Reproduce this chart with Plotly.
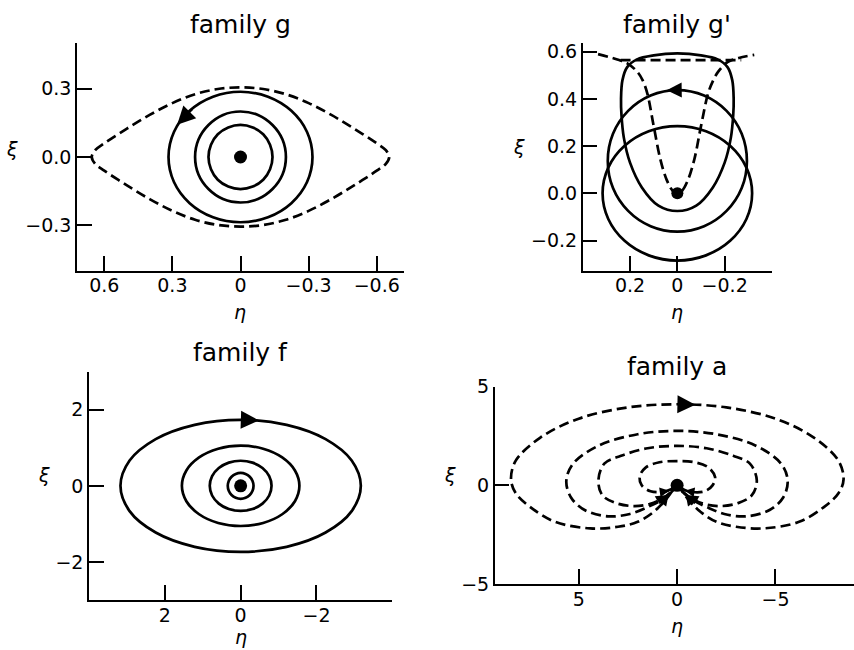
import plotly.graph_objects as go

W, H = 854, 650
FONT = "DejaVu Sans"

# ---------------- family g ----------------
g_sep_eta = [0.655, 0.64, 0.60, 0.50, 0.40, 0.30, 0.20, 0.10, 0.00, -0.10, -0.20, -0.30, -0.40, -0.50, -0.60, -0.64,
             -0.655, -0.64, -0.60, -0.50, -0.40, -0.30, -0.20, -0.10, 0.00, 0.10, 0.20, 0.30, 0.40, 0.50, 0.60, 0.64, 0.655]
g_sep_xi = [0.0, 0.03, 0.06, 0.125, 0.185, 0.237, 0.276, 0.299, 0.306, 0.299, 0.276, 0.237, 0.185, 0.125, 0.06, 0.03,
            0.0, -0.03, -0.06, -0.125, -0.185, -0.237, -0.276, -0.299, -0.306, -0.299, -0.276, -0.237, -0.185, -0.125, -0.06, -0.03, 0.0]
g_orb1_eta = [0.317, 0.293, 0.224, 0.121, 0.0, -0.121, -0.224, -0.293, -0.317, -0.293, -0.224, -0.121, 0.0, 0.121, 0.224, 0.293, 0.317]
g_orb1_xi = [0.0, 0.110, 0.203, 0.265, 0.287, 0.265, 0.203, 0.110, 0.0, -0.110, -0.203, -0.265, -0.287, -0.265, -0.203, -0.110, 0.0]
g_orb2_eta = [0.2, 0.185, 0.141, 0.077, 0.0, -0.077, -0.141, -0.185, -0.2, -0.185, -0.141, -0.077, 0.0, 0.077, 0.141, 0.185, 0.2]
g_orb2_xi = [0.0, 0.077, 0.141, 0.185, 0.2, 0.185, 0.141, 0.077, 0.0, -0.077, -0.141, -0.185, -0.2, -0.185, -0.141, -0.077, 0.0]
g_orb3_eta = [0.141, 0.130, 0.1, 0.054, 0.0, -0.054, -0.1, -0.130, -0.141, -0.130, -0.1, -0.054, 0.0, 0.054, 0.1, 0.130, 0.141]
g_orb3_xi = [0.0, 0.054, 0.1, 0.130, 0.141, 0.130, 0.1, 0.054, 0.0, -0.054, -0.1, -0.130, -0.141, -0.130, -0.1, -0.054, 0.0]
g_arrow = [0.206, 0.216, 0.279, 0.142]          # tail eta, tail xi, tip eta, tip xi
g_xticks = [0.6, 0.3, 0.0, -0.3, -0.6]
g_xtext = ["0.6", "0.3", "0", "\u22120.3", "\u22120.6"]
g_yticks = [0.3, 0.0, -0.3]
g_ytext = ["0.3", "0.0", "\u22120.3"]

# ---------------- family g' ----------------
gp_orb1_eta = [0.316, 0.292, 0.223, 0.121, 0.0, -0.121, -0.223, -0.292, -0.316, -0.292, -0.223, -0.121, 0.0, 0.121, 0.223, 0.292, 0.316]
gp_orb1_xi = [0.0, 0.109, 0.2015, 0.263, 0.285, 0.263, 0.2015, 0.109, 0.0, -0.109, -0.2015, -0.263, -0.285, -0.263, -0.2015, -0.109, 0.0]
gp_orb2_eta = [0.294, 0.272, 0.208, 0.113, 0.0, -0.113, -0.208, -0.272, -0.294, -0.272, -0.208, -0.113, 0.0, 0.113, 0.208, 0.272, 0.294]
gp_orb2_xi = [0.1375, 0.2525, 0.3495, 0.4145, 0.4375, 0.4145, 0.3495, 0.2525, 0.1375, 0.0225, -0.0745, -0.1395, -0.1625, -0.1395, -0.0745, 0.0225, 0.1375]
gp_orb3_eta = [0.0, 0.10, 0.17, 0.212, 0.232, 0.238, 0.236, 0.226, 0.20, 0.15, 0.08, 0.0,
               -0.08, -0.15, -0.20, -0.226, -0.236, -0.238, -0.232, -0.212, -0.17, -0.10, 0.0]
gp_orb3_xi = [0.593, 0.585, 0.568, 0.535, 0.48, 0.40, 0.33, 0.235, 0.13, 0.025, -0.052, -0.075,
              -0.052, 0.025, 0.13, 0.235, 0.33, 0.40, 0.48, 0.535, 0.568, 0.585, 0.593]
gp_sep_eta = [0.335, 0.29, 0.25, 0.21, 0.169, 0.147, 0.127, 0.10, 0.072, 0.045, 0.02, 0.0,
              -0.02, -0.045, -0.072, -0.10, -0.13, -0.152, -0.172, -0.212, -0.26, -0.325]
gp_sep_xi = [0.59, 0.578, 0.566, 0.55, 0.515, 0.48, 0.424, 0.285, 0.145, 0.057, 0.011, 0.0,
             0.011, 0.057, 0.145, 0.285, 0.424, 0.48, 0.515, 0.556, 0.574, 0.587]
gp_line_eta = [0.24, -0.27]
gp_line_xi = [0.565, 0.565]
gp_arrow = [-0.015, 0.438, 0.045, 0.437]
gp_xticks = [0.2, 0.0, -0.2]
gp_xtext = ["0.2", "0", "\u22120.2"]
gp_yticks = [0.6, 0.4, 0.2, 0.0, -0.2]
gp_ytext = ["0.6", "0.4", "0.2", "0.0", "\u22120.2"]

# ---------------- family f ----------------
f_orb1_eta = [3.17, 2.929, 2.241, 1.213, 0.0, -1.213, -2.241, -2.929, -3.17, -2.929, -2.241, -1.213, 0.0, 1.213, 2.241, 2.929, 3.17]
f_orb1_xi = [0.0, 0.664, 1.227, 1.603, 1.735, 1.603, 1.227, 0.664, 0.0, -0.664, -1.227, -1.603, -1.735, -1.603, -1.227, -0.664, 0.0]
f_orb2_eta = [1.55, 1.432, 1.096, 0.593, 0.0, -0.593, -1.096, -1.432, -1.55, -1.432, -1.096, -0.593, 0.0, 0.593, 1.096, 1.432, 1.55]
f_orb2_xi = [0.0, 0.404, 0.746, 0.975, 1.055, 0.975, 0.746, 0.404, 0.0, -0.404, -0.746, -0.975, -1.055, -0.975, -0.746, -0.404, 0.0]
f_orb3_eta = [0.815, 0.753, 0.576, 0.312, 0.0, -0.312, -0.576, -0.753, -0.815, -0.753, -0.576, -0.312, 0.0, 0.312, 0.576, 0.753, 0.815]
f_orb3_xi = [0.0, 0.253, 0.467, 0.610, 0.66, 0.610, 0.467, 0.253, 0.0, -0.253, -0.467, -0.610, -0.66, -0.610, -0.467, -0.253, 0.0]
f_orb4_eta = [0.34, 0.314, 0.24, 0.130, 0.0, -0.130, -0.24, -0.314, -0.34, -0.314, -0.24, -0.130, 0.0, 0.130, 0.24, 0.314, 0.34]
f_orb4_xi = [0.0, 0.130, 0.24, 0.314, 0.34, 0.314, 0.24, 0.130, 0.0, -0.130, -0.24, -0.314, -0.34, -0.314, -0.24, -0.130, 0.0]
f_arrow = [0.0, 1.735, -0.48, 1.72]
f_xticks = [2, 0, -2]
f_xtext = ["2", "0", "\u22122"]
f_yticks = [2, 0, -2]
f_ytext = ["2", "0", "\u22122"]

# ---------------- family a ----------------
a_orb1_eta = [0.0, 0.25, 0.6, 1.2, 2.0, 3.0, 4.42, 6.2, 7.46, 8.2, 8.44, 8.2, 6.95, 5.0, 2.5, 0.0,
              -2.5, -5.0, -6.95, -8.2, -8.46, -8.2, -7.46, -6.2, -4.4, -3.0, -2.0, -1.2, -0.6, -0.25, 0.0]
a_orb1_xi = [0.0, -0.3, -0.75, -1.35, -1.85, -2.1, -2.18, -1.85, -1.1, -0.4, 0.3, 1.25, 2.42, 3.38, 3.95, 4.11,
             3.95, 3.38, 2.42, 1.25, 0.3, -0.4, -1.1, -1.85, -2.18, -2.1, -1.85, -1.35, -0.75, -0.3, 0.0]
a_orb2_eta = [0.0, 0.35, 0.8, 1.5, 2.4, 3.5, 4.7, 5.4, 5.63, 5.3, 4.0, 2.0, 0.0,
              -2.0, -4.0, -5.3, -5.62, -5.4, -4.7, -3.5, -2.4, -1.5, -0.8, -0.35, 0.0]
a_orb2_xi = [0.0, -0.4, -0.75, -1.1, -1.45, -1.57, -1.25, -0.6, 0.22, 1.08, 2.01, 2.59, 2.76,
             2.59, 2.01, 1.08, 0.22, -0.6, -1.25, -1.57, -1.45, -1.1, -0.75, -0.4, 0.0]
a_orb3_eta = [0.0, 0.35, 0.8, 1.4, 2.2, 3.1, 3.8, 4.0, 3.7, 2.85, 1.5, 0.0,
              -1.5, -2.85, -3.7, -4.05, -3.8, -3.1, -2.2, -1.4, -0.8, -0.35, 0.0]
a_orb3_xi = [0.0, -0.38, -0.7, -0.95, -1.05, -0.9, -0.5, 0.25, 1.1, 1.5, 1.88, 2.0,
             1.88, 1.5, 1.1, 0.25, -0.5, -0.9, -1.05, -0.95, -0.7, -0.38, 0.0]
a_orb4_eta = [0.0, 0.3, 0.7, 1.35, 1.8, 1.9, 1.6, 0.9, 0.0, -0.9, -1.6, -1.93, -1.8, -1.4, -0.7, -0.3, 0.0]
a_orb4_xi = [0.0, -0.2, -0.33, -0.3, 0.0, 0.45, 0.9, 1.17, 1.23, 1.17, 0.9, 0.42, 0.0, -0.3, -0.33, -0.2, 0.0]
a_arrow = [0.03, 4.11, -0.93, 4.09]
# small heads on the branches that run into the origin
a_in_tail_eta = [0.8, 0.9, 0.95, 0.75, -0.8, -0.9, -0.95, -0.75]
a_in_tail_xi = [-1.0, -0.85, -0.72, -0.33, -1.0, -0.85, -0.72, -0.33]
a_in_tip_eta = [0.45, 0.55, 0.6, 0.4, -0.45, -0.55, -0.6, -0.4]
a_in_tip_xi = [-0.55, -0.52, -0.5, -0.28, -0.55, -0.52, -0.5, -0.28]
a_xticks = [5, 0, -5]
a_xtext = ["5", "0", "\u22125"]
a_yticks = [5, 0, -5]
a_ytext = ["5", "0", "\u22125"]

# ---------------- panel geometry (pixels) ----------------
panels = {
    "g":  dict(x0=77.0, x1=404.0, y0=43.3, y1=270.7, xr=[0.72, -0.72], yr=[-0.5, 0.5]),
    "gp": dict(x0=582.7, x1=772.0, y0=43.3, y1=270.7, xr=[0.4, -0.4], yr=[-0.328, 0.636]),
    "f":  dict(x0=89.0, x1=392.3, y0=371.7, y1=600.0, xr=[4.0, -4.0], yr=[-3.0, 3.0]),
    "a":  dict(x0=494.7, x1=854.0, y0=386.7, y1=584.0, xr=[9.27, -8.99], yr=[-5.0, 5.0]),
}
order = ["g", "gp", "f", "a"]
ticks = {
    "g": (g_xticks, g_xtext, g_yticks, g_ytext),
    "gp": (gp_xticks, gp_xtext, gp_yticks, gp_ytext),
    "f": (f_xticks, f_xtext, f_yticks, f_ytext),
    "a": (a_xticks, a_xtext, a_yticks, a_ytext),
}


def px_x(p):
    return p / W


def px_y(p):
    return 1 - p / H


fig = go.Figure()
layout = dict(
    width=W, height=H, margin=dict(l=0, r=0, t=0, b=0, pad=0, autoexpand=False),
    paper_bgcolor="white", plot_bgcolor="white", showlegend=False,
    font=dict(family=FONT, size=19, color="black"),
)

axis_common = dict(
    showline=True, linecolor="black", linewidth=1.5, mirror=False,
    ticks="inside", ticklen=15, tickwidth=1.5, tickcolor="black",
    showgrid=False, zeroline=False, tickmode="array", automargin=False,
    tickfont=dict(family=FONT, size=19, color="black"),
)

refs = {}
for i, key in enumerate(order, start=1):
    p = panels[key]
    xa = "xaxis" if i == 1 else f"xaxis{i}"
    ya = "yaxis" if i == 1 else f"yaxis{i}"
    xr = "x" if i == 1 else f"x{i}"
    yr = "y" if i == 1 else f"y{i}"
    refs[key] = (xr, yr)
    xt, xtt, yt, ytt = ticks[key]
    layout[xa] = dict(axis_common, domain=[px_x(p["x0"]), px_x(p["x1"])], range=p["xr"],
                      anchor=yr, tickvals=xt, ticktext=xtt, ticklabelstandoff=-3)
    layout[ya] = dict(axis_common, domain=[px_y(p["y1"]), px_y(p["y0"])], range=p["yr"],
                      anchor=xr, tickvals=yt, ticktext=ytt)

SOLID = dict(color="black", width=2.7, shape="spline", smoothing=1.0)
DASH = dict(color="black", width=2.7, shape="spline", smoothing=1.0, dash="10px,5px")


def curve(key, eta, xi, line):
    xr, yr = refs[key]
    fig.add_trace(go.Scatter(x=eta, y=xi, mode="lines", line=line, xaxis=xr, yaxis=yr,
                             hoverinfo="skip"))


def dot(key, size):
    xr, yr = refs[key]
    fig.add_trace(go.Scatter(x=[0.0], y=[0.0], mode="markers",
                             marker=dict(color="black", size=size), xaxis=xr, yaxis=yr,
                             hoverinfo="skip"))


curve("g", g_sep_eta, g_sep_xi, DASH)
curve("g", g_orb1_eta, g_orb1_xi, SOLID)
curve("g", g_orb2_eta, g_orb2_xi, SOLID)
curve("g", g_orb3_eta, g_orb3_xi, SOLID)
dot("g", 13)

curve("gp", gp_orb1_eta, gp_orb1_xi, SOLID)
curve("gp", gp_orb2_eta, gp_orb2_xi, SOLID)
curve("gp", gp_orb3_eta, gp_orb3_xi, SOLID)
curve("gp", gp_sep_eta, gp_sep_xi, DASH)
curve("gp", gp_line_eta, gp_line_xi, dict(DASH, shape="linear"))
dot("gp", 12)

curve("f", f_orb1_eta, f_orb1_xi, SOLID)
curve("f", f_orb2_eta, f_orb2_xi, SOLID)
curve("f", f_orb3_eta, f_orb3_xi, SOLID)
curve("f", f_orb4_eta, f_orb4_xi, SOLID)
dot("f", 13)

curve("a", a_orb1_eta, a_orb1_xi, DASH)
curve("a", a_orb2_eta, a_orb2_xi, DASH)
curve("a", a_orb3_eta, a_orb3_xi, DASH)
curve("a", a_orb4_eta, a_orb4_xi, DASH)
dot("a", 13)

annotations = []


def arrow(key, tail_eta, tail_xi, tip_eta, tip_xi, scale):
    xr, yr = refs[key]
    annotations.append(dict(
        x=tip_eta, y=tip_xi, ax=tail_eta, ay=tail_xi, xref=xr, yref=yr, axref=xr, ayref=yr,
        text="", showarrow=True, arrowhead=2, arrowwidth=2.0, arrowsize=scale / 2.0,
        arrowcolor="black", standoff=0,
    ))


arrow("g", *g_arrow, 3.6)
arrow("gp", *gp_arrow, 3.0)
arrow("f", *f_arrow, 3.6)
arrow("a", *a_arrow, 3.6)
for te, tx, he, hx in zip(a_in_tail_eta, a_in_tail_xi, a_in_tip_eta, a_in_tip_xi):
    arrow("a", te, tx, he, hx, 1.9)


def text(s, xp, yp, size):
    annotations.append(dict(text=s, x=px_x(xp), y=px_y(yp), xref="paper", yref="paper",
                            xanchor="center", yanchor="middle", showarrow=False,
                            font=dict(family=FONT, size=size, color="black")))


# panel titles
text("family g", 240.5, 25.0, 25)
text("family g'", 677.4, 25.0, 25)
text("family f", 240.7, 352.0, 25)
text("family a", 677.0, 366.5, 25)

# axis labels
text("<i>\u03b7</i>", 240.5, 312, 19)
text("<i>\u03be</i>", 12.0, 149, 19)
text("<i>\u03b7</i>", 677.4, 312, 19)
text("<i>\u03be</i>", 519.0, 147.5, 19)
text("<i>\u03b7</i>", 240.7, 636.5, 19)
text("<i>\u03be</i>", 43.5, 475, 19)
text("<i>\u03b7</i>", 677.0, 626, 19)
text("<i>\u03be</i>", 449.5, 475, 19)

layout["annotations"] = annotations
fig.update_layout(**layout)
fig.write_html("out.html")
